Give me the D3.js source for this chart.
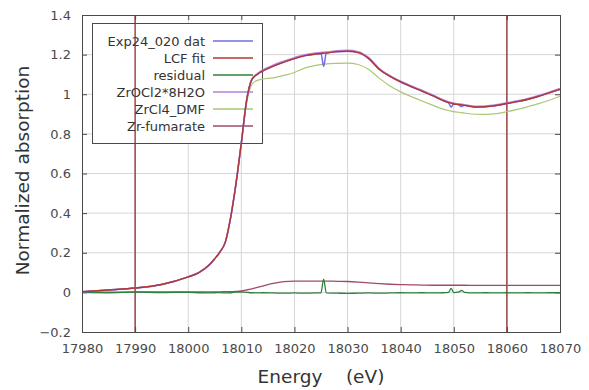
<!DOCTYPE html>
<html>
<head>
<meta charset="utf-8">
<script src="https://cdn.jsdelivr.net/npm/d3@7"></script>
<style>
  html, body { margin: 0; padding: 0; background: #fff; }
  svg { display: block; }
  text { font-family: "DejaVu Sans", sans-serif; }
</style>
</head>
<body>
<svg id="chart" width="589" height="390"></svg>
<script>
// Energy grid (eV) shared by all spectra
const energy = [17980, 17985, 17990, 17995, 18000, 18002, 18004, 18005, 18006, 18007,
  18008, 18009, 18010, 18011, 18012, 18013, 18014, 18016, 18018, 18020,
  18022, 18024, 18025, 18025.5, 18026, 18028, 18030, 18032, 18034, 18036,
  18038, 18040, 18042, 18044, 18046, 18048, 18049, 18049.5, 18050, 18051,
  18051.5, 18052, 18054, 18056, 18058, 18060, 18062, 18064, 18066, 18068, 18070];

// Measured spectrum
const expData = [0.003, 0.012, 0.022, 0.040, 0.078, 0.100, 0.140, 0.170, 0.205, 0.255,
  0.38, 0.55, 0.755, 0.97, 1.075, 1.100, 1.117, 1.142, 1.162, 1.180,
  1.195, 1.203, 1.206, 1.140, 1.208, 1.215, 1.217, 1.210, 1.180, 1.125,
  1.090, 1.062, 1.038, 1.016, 0.993, 0.968, 0.958, 0.935, 0.952, 0.945,
  0.938, 0.944, 0.936, 0.937, 0.943, 0.953, 0.963, 0.975, 0.990, 1.007, 1.025];

// Linear combination fit
const lcfFit = [0.003, 0.012, 0.022, 0.040, 0.078, 0.100, 0.140, 0.170, 0.205, 0.255,
  0.38, 0.55, 0.755, 0.97, 1.075, 1.100, 1.117, 1.142, 1.162, 1.180,
  1.195, 1.203, 1.206, 1.207, 1.208, 1.215, 1.217, 1.210, 1.180, 1.125,
  1.090, 1.062, 1.038, 1.016, 0.993, 0.968, 0.958, 0.955, 0.951, 0.948,
  0.946, 0.944, 0.936, 0.937, 0.943, 0.953, 0.963, 0.975, 0.990, 1.007, 1.025];

// Fit residual
const residual = [0.000, -0.002, 0.001, -0.001, 0.000, -0.002, -0.003, -0.002, -0.001, -0.003,
  -0.002, 0.001, 0.002, 0.000, -0.002, -0.003, -0.002, -0.003, -0.004, -0.003,
  -0.004, -0.003, -0.002, 0.067, -0.003, -0.004, -0.005, -0.004, -0.003, -0.004,
  -0.003, -0.002, -0.003, -0.002, -0.003, -0.002, 0.000, 0.020, -0.001, 0.003,
  0.010, 0.000, -0.003, -0.002, -0.003, -0.002, -0.003, -0.002, -0.003, -0.002, -0.002];

// Reference standards (weighted)
const zrOCl2 = [0.003, 0.012, 0.022, 0.040, 0.078, 0.100, 0.140, 0.170, 0.205, 0.255,
  0.38, 0.55, 0.755, 0.97, 1.078, 1.104, 1.122, 1.147, 1.167, 1.185,
  1.200, 1.208, 1.211, 1.212, 1.213, 1.220, 1.222, 1.215, 1.185, 1.130,
  1.094, 1.066, 1.042, 1.020, 0.997, 0.972, 0.962, 0.958, 0.955, 0.951,
  0.949, 0.947, 0.940, 0.941, 0.947, 0.957, 0.967, 0.979, 0.994, 1.011, 1.029];

const zrCl4DMF = [0.003, 0.012, 0.022, 0.040, 0.078, 0.100, 0.140, 0.170, 0.205, 0.255,
  0.38, 0.55, 0.75, 0.955, 1.050, 1.070, 1.076, 1.083, 1.095, 1.110,
  1.133, 1.146, 1.150, 1.151, 1.153, 1.156, 1.157, 1.150, 1.125, 1.080,
  1.042, 1.012, 0.988, 0.966, 0.945, 0.925, 0.918, 0.915, 0.912, 0.909,
  0.907, 0.905, 0.899, 0.898, 0.902, 0.912, 0.924, 0.938, 0.953, 0.970, 0.990];

const zrFumarate = [0.001, 0.001, 0.002, 0.002, 0.002, 0.002, 0.003, 0.003, 0.003, 0.004,
  0.004, 0.005, 0.007, 0.012, 0.018, 0.025, 0.032, 0.045, 0.054, 0.057,
  0.057, 0.057, 0.057, 0.057, 0.057, 0.056, 0.055, 0.052, 0.048, 0.044,
  0.041, 0.039, 0.038, 0.037, 0.036, 0.036, 0.036, 0.036, 0.036, 0.036,
  0.036, 0.036, 0.035, 0.035, 0.035, 0.035, 0.035, 0.035, 0.035, 0.035, 0.035];

// Fit window markers (eV)
const fitRange = [17990, 18060];

const xTicks = [17980, 17990, 18000, 18010, 18020, 18030, 18040, 18050, 18060, 18070];
const yTicks = [-0.2, 0, 0.2, 0.4, 0.6, 0.8, 1, 1.2, 1.4];

const legendNames = ["Exp24_020 dat", "LCF fit", "residual", "ZrOCl2*8H2O", "ZrCl4_DMF", "Zr-fumarate"];
const legendColors = ["#6f6fe0", "#b03636", "#2f7f3f", "#b67fdc", "#abc874", "#a04a68"];

const svg = d3.select("#chart");
const L = 82, R = 560, T = 15, B = 332;

const x = d3.scaleLinear().domain([17980, 18070]).range([L, R]);
const y = d3.scaleLinear().domain([-0.2, 1.4]).range([B, T]);

// grid
const grid = svg.append("g");
grid.selectAll("line.gx").data(xTicks.slice(1, -1)).join("line")
  .attr("x1", d => x(d)).attr("x2", d => x(d)).attr("y1", T).attr("y2", B)
  .attr("stroke", "#d6d6d6").attr("stroke-width", 1);
grid.selectAll("line.gy").data(yTicks.slice(1, -1)).join("line")
  .attr("y1", d => y(d)).attr("y2", d => y(d)).attr("x1", L).attr("x2", R)
  .attr("stroke", "#d6d6d6").attr("stroke-width", 1);

// axes with inward ticks on all four sides
const fmtY = d => (d === 0 || d === 1) ? String(d) : d3.format(".1f")(d);
function styleAxis(g) {
  g.select(".domain").remove();
  g.selectAll(".tick line").attr("stroke", "#4a4a4a");
  g.selectAll(".tick text").attr("fill", "#4a4a4a").style("font-size", "13px")
    .style("font-family", "'DejaVu Sans', sans-serif");
}
svg.append("g").attr("transform", `translate(0,${B})`)
  .call(d3.axisBottom(x).tickValues(xTicks).tickFormat(d3.format("d")).tickSizeInner(-5).tickPadding(12))
  .call(styleAxis);
svg.append("g").attr("transform", `translate(0,${T})`)
  .call(d3.axisTop(x).tickValues(xTicks).tickFormat("").tickSizeInner(-5))
  .call(styleAxis);
svg.append("g").attr("transform", `translate(${L},0)`)
  .call(d3.axisLeft(y).tickValues(yTicks).tickFormat(fmtY).tickSizeInner(-5).tickPadding(11))
  .call(styleAxis);
svg.append("g").attr("transform", `translate(${R},0)`)
  .call(d3.axisRight(y).tickValues(yTicks).tickFormat("").tickSizeInner(-5))
  .call(styleAxis);

// legend box
const lg = svg.append("g");
lg.append("rect").attr("x", 92.5).attr("y", 23.5).attr("width", 170).attr("height", 120)
  .attr("fill", "#fff").attr("stroke", "#4a4a4a").attr("stroke-width", 1);

// fit range markers
svg.append("g").selectAll("line").data(fitRange).join("line")
  .attr("x1", d => x(d)).attr("x2", d => x(d)).attr("y1", T).attr("y2", B)
  .attr("stroke", "#8f2c2c").attr("stroke-width", 1.3);

legendNames.forEach((name, i) => {
  const yy = 41 + i * 17;
  lg.append("text").attr("x", 205).attr("y", yy).attr("dy", "0.35em")
    .attr("text-anchor", "end").attr("fill", "#333").style("font-size", "13px").text(name);
  lg.append("line").attr("x1", 213).attr("x2", 253).attr("y1", yy).attr("y2", yy)
    .attr("stroke", legendColors[i]).attr("stroke-width", 1.3);
});

// spectra
const line = d3.line().x(d => x(d[0])).y(d => y(d[1])).curve(d3.curveMonotoneX);
const series = [
  { v: zrCl4DMF, c: legendColors[4], w: 1.2 },
  { v: zrFumarate, c: legendColors[5], w: 1.3 },
  { v: residual, c: legendColors[2], w: 1.3 },
  { v: expData, c: legendColors[0], w: 1.5 },
  { v: zrOCl2, c: legendColors[3], w: 1.5 },
  { v: lcfFit, c: legendColors[1], w: 1.4 }
];
const plot = svg.append("g");
series.forEach(s => {
  plot.append("path").datum(energy.map((e, i) => [e, s.v[i]]))
    .attr("d", line).attr("fill", "none").attr("stroke", s.c).attr("stroke-width", s.w);
});

// frame
svg.append("rect").attr("x", L + 0.5).attr("y", T + 0.5).attr("width", R - L).attr("height", B - T)
  .attr("fill", "none").attr("stroke", "#4a4a4a").attr("stroke-width", 1);

// axis titles
svg.append("text").attr("x", (L + R) / 2).attr("y", 383).attr("text-anchor", "middle")
  .attr("fill", "#333").style("font-size", "18.5px").style("white-space", "pre")
  .text("Energy    (eV)");
svg.append("text").attr("transform", `translate(29,${(T + B) / 2 - 3}) rotate(-90)`)
  .attr("text-anchor", "middle").attr("fill", "#333").style("font-size", "18.5px")
  .text("Normalized absorption");
</script>
</body>
</html>
